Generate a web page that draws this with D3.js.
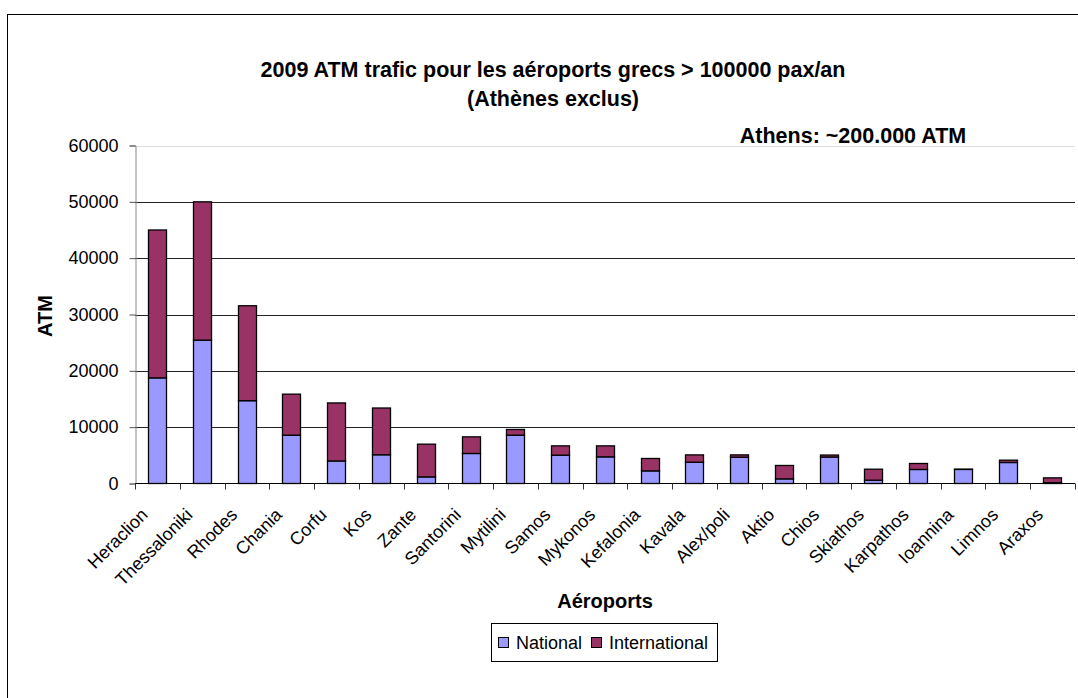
<!DOCTYPE html>
<html>
<head>
<meta charset="utf-8">
<script src="https://cdn.jsdelivr.net/npm/d3@7"></script>
<style>
  body { margin: 0; background: #fff; }
  svg { display: block; font-family: "Liberation Sans", Arial, sans-serif; }
</style>
</head>
<body>
<div id="chart"></div>
<script>
// airports, sorted as in the source sheet
const airports = ['Heraclion', 'Thessaloniki', 'Rhodes', 'Chania', 'Corfu', 'Kos', 'Zante',
  'Santorini', 'Mytilini', 'Samos', 'Mykonos', 'Kefalonia', 'Kavala', 'Alex/poli', 'Aktio',
  'Chios', 'Skiathos', 'Karpathos', 'Ioannina', 'Limnos', 'Araxos'];
const national = [18750, 25450, 14700, 8580, 4000, 5100, 1170, 5330, 8580, 5030, 4730,
  2240, 3780, 4670, 820, 4700, 590, 2490, 2500, 3730, 150];
const international = [26250, 24550, 16850, 7280, 10300, 8300, 5810, 2950, 1010, 1650, 1950,
  2200, 1300, 410, 2380, 350, 1950, 1060, 40, 410, 850];
const yTicks = [0, 10000, 20000, 30000, 40000, 50000, 60000];
const seriesNames = ['National', 'International'];
const colors = ['#9999FF', '#993366'];

const W = 1078, H = 698;
const svg = d3.select('#chart').append('svg').attr('width', W).attr('height', H);

// outer chart frame (cropped on the right)
svg.append('rect').attr('x', 7.5).attr('y', 14.5).attr('width', 1200).attr('height', 800)
  .attr('fill', 'none').attr('stroke', '#000');

const pLeft = 135, pRight = 1075, pTop = 145.5, pBottom = 483.5;
const x = d3.scaleBand().domain(airports).range([pLeft, pRight]).paddingInner(0.59).paddingOuter(0.295);
const y = d3.scaleLinear().domain([0, 60000]).range([pBottom, pTop]);

// gridlines
svg.append('g').selectAll('line').data(yTicks.filter(d => d > 0)).join('line')
  .attr('x1', pLeft).attr('x2', pRight)
  .attr('y1', d => Math.round(y(d)) + 0.5).attr('y2', d => Math.round(y(d)) + 0.5)
  .attr('stroke', d => d === 60000 ? '#dcdcdc' : '#222').attr('stroke-width', 1);

// stacked bars
const rows = airports.map((a, i) => ({ airport: a, National: national[i], International: international[i] }));
const stack = d3.stack().keys(seriesNames)(rows);
svg.append('g').selectAll('g').data(stack).join('g')
  .attr('fill', (d, i) => colors[i])
  .selectAll('rect').data(d => d).join('rect')
  .attr('x', d => Math.round(x(d.data.airport)) + 0.5)
  .attr('y', d => y(d[1]))
  .attr('width', Math.round(x.bandwidth()))
  .attr('height', d => y(d[0]) - y(d[1]))
  .attr('stroke', '#000').attr('stroke-width', 1.3);

// y axis
const yAxis = d3.axisLeft(y).tickValues(yTicks).tickSize(6).tickPadding(11).tickFormat(d3.format('d'));
const gy = svg.append('g').attr('transform', `translate(${pLeft + 0.5},0)`).call(yAxis);
gy.select('.domain').attr('stroke', '#888');
gy.selectAll('.tick line').attr('stroke', '#555');
gy.selectAll('.tick text').attr('font-size', 18).attr('fill', '#000').attr('font-family', '"Liberation Sans", Arial, sans-serif');

// x axis line and ticks at category boundaries
const step = x.step();
const bounds = d3.range(airports.length + 1).map(i => pLeft + i * step);
svg.append('line').attr('x1', pLeft).attr('x2', pRight).attr('y1', pBottom).attr('y2', pBottom)
  .attr('stroke', '#000');
svg.append('g').selectAll('line').data(bounds).join('line')
  .attr('x1', d => Math.round(d) + 0.5).attr('x2', d => Math.round(d) + 0.5)
  .attr('y1', pBottom).attr('y2', pBottom + 6).attr('stroke', '#333');

// rotated category labels
svg.append('g').selectAll('text').data(airports).join('text')
  .attr('transform', d => `translate(${x(d) + x.bandwidth() / 2 - 13},${pBottom + 28}) rotate(-45)`)
  .attr('text-anchor', 'end').attr('dy', '0.35em')
  .attr('font-size', 18).text(d => d);

// titles
svg.append('text').attr('x', 553).attr('y', 77).attr('text-anchor', 'middle')
  .attr('font-size', 21.5).attr('font-weight', 'bold')
  .text('2009 ATM trafic pour les aéroports grecs > 100000 pax/an');
svg.append('text').attr('x', 553).attr('y', 106).attr('text-anchor', 'middle')
  .attr('font-size', 21.5).attr('font-weight', 'bold').text('(Athènes exclus)');
svg.append('text').attr('x', 853).attr('y', 143).attr('text-anchor', 'middle')
  .attr('font-size', 21.5).attr('font-weight', 'bold').text('Athens: ~200.000 ATM');

svg.append('text').attr('transform', `translate(52,316) rotate(-90)`)
  .attr('text-anchor', 'middle').attr('font-size', 20).attr('font-weight', 'bold').text('ATM');
svg.append('text').attr('x', (pLeft + pRight) / 2).attr('y', 608).attr('text-anchor', 'middle')
  .attr('font-size', 20).attr('font-weight', 'bold').text('Aéroports');

// legend
const lg = svg.append('g');
lg.append('rect').attr('x', 491.5).attr('y', 623.5).attr('width', 226).attr('height', 38)
  .attr('fill', '#fff').attr('stroke', '#000');
const legendX = [498, 591];
seriesNames.forEach((s, i) => {
  lg.append('rect').attr('x', legendX[i] + 0.5).attr('y', 637.5).attr('width', 10).attr('height', 10)
    .attr('fill', colors[i]).attr('stroke', '#000');
  lg.append('text').attr('x', legendX[i] + 18).attr('y', 649).attr('font-size', 18).text(s);
});
</script>
</body>
</html>
